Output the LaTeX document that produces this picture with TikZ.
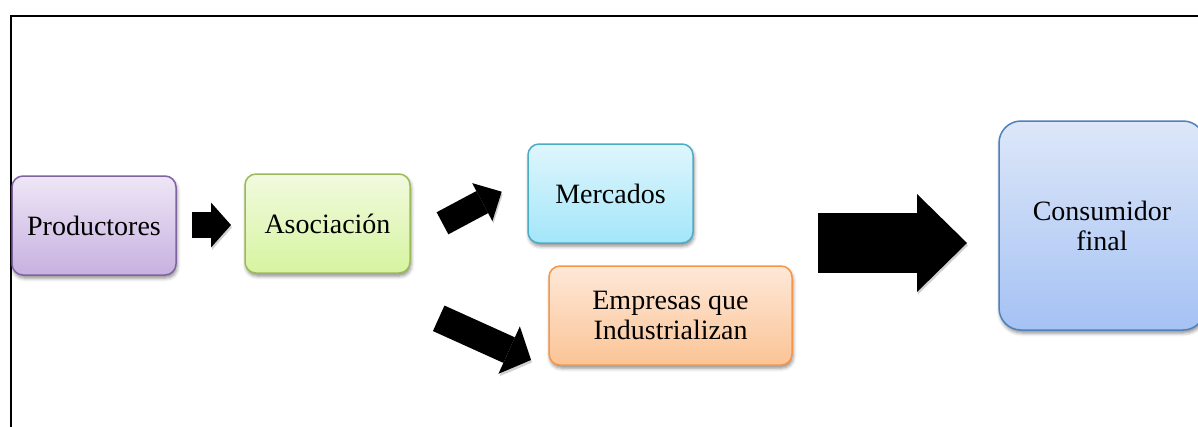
\documentclass[tikz,border=0pt]{standalone}
\usepackage{fontspec}
\setmainfont{Liberation Serif}
\usetikzlibrary{arrows.meta,shadows.blur,calc}
\definecolor{prodTop}{HTML}{EEE6F6}\definecolor{prodBot}{HTML}{C7B1E0}\definecolor{prodLine}{HTML}{8064A2}
\definecolor{asoTop}{HTML}{F2FADF}\definecolor{asoBot}{HTML}{D6F4A0}\definecolor{asoLine}{HTML}{9BBB59}
\definecolor{merTop}{HTML}{DFF6FD}\definecolor{merBot}{HTML}{A3E6F9}\definecolor{merLine}{HTML}{4BACC6}
\definecolor{empTop}{HTML}{FEE8D8}\definecolor{empBot}{HTML}{FBC496}\definecolor{empLine}{HTML}{F79646}
\definecolor{conTop}{HTML}{DDE7F8}\definecolor{conBot}{HTML}{A5C2F4}\definecolor{conLine}{HTML}{4F81BD}
\tikzset{
  box/.style={rectangle, rounded corners=11pt, line width=1.5pt, align=center,
    font=\fontsize{28}{30}\selectfont, inner sep=0pt,
    blur shadow={shadow xshift=1pt, shadow yshift=-3pt, shadow blur radius=3.5pt, shadow opacity=45}},
  colbox/.style={box, draw=#1Line, top color=#1Top, bottom color=#1Bot},
  blockarrow/.style n args={3}{line width=#1,
    -{Triangle[length=#3, width=#2, line width=0pt]},
    preaction={draw=black!40, opacity=0.45, transform canvas={shift={(1pt,-2.5pt)}}}},
  frameline/.style={line width=2pt}
}
\begin{document}
\begin{tikzpicture}[x=1pt,y=-1pt]
\useasboundingbox (0,0) rectangle (1198,426);
\clip (0,0) rectangle (1198,426);
% frame
\coordinate (fTL) at (10.5,15.5);
\coordinate (fTR) at (1200,15.5);
\coordinate (fBL) at (10.5,428);
\draw[frameline] (fBL) -- (fTL) -- (fTR);
% boxes
\node[colbox=prod, minimum width=164pt, minimum height=99pt] (prod) at (94,225.5) {Productores};
\node[colbox=aso, minimum width=165pt, minimum height=99pt] (aso) at (327.5,223.5) {Asociación};
\node[colbox=mer, minimum width=165pt, minimum height=99pt] (mer) at (610.5,193.5) {Mercados};
\node[colbox=emp, minimum width=243pt, minimum height=99pt] (emp) at (670.5,315.5) {Empresas que\\Industrializan};
\node[colbox=con, rounded corners=22pt, minimum width=206pt, minimum height=209pt] (con) at (1102,225.5) {Consumidor\\final};
% arrow end points
\coordinate (a1s) at (192,225);
\coordinate (a1e) at (231,225);
\coordinate (a2s) at (442.5,223.3);
\coordinate (a2e) at (501.7,191.7);
\coordinate (a3s) at (438.7,318.3);
\coordinate (a3e) at (531,360);
\coordinate (a4s) at (818,243);
\coordinate (a4e) at (967,243);
\draw[blockarrow={26pt}{45pt}{20pt}] (a1s) -- (a1e);
\draw[blockarrow={25pt}{43pt}{22pt}] (a2s) -- (a2e);
\draw[blockarrow={28pt}{52pt}{24pt}] (a3s) -- (a3e);
\draw[blockarrow={60pt}{98pt}{50pt}] (a4s) -- (a4e);
\end{tikzpicture}
\end{document}
